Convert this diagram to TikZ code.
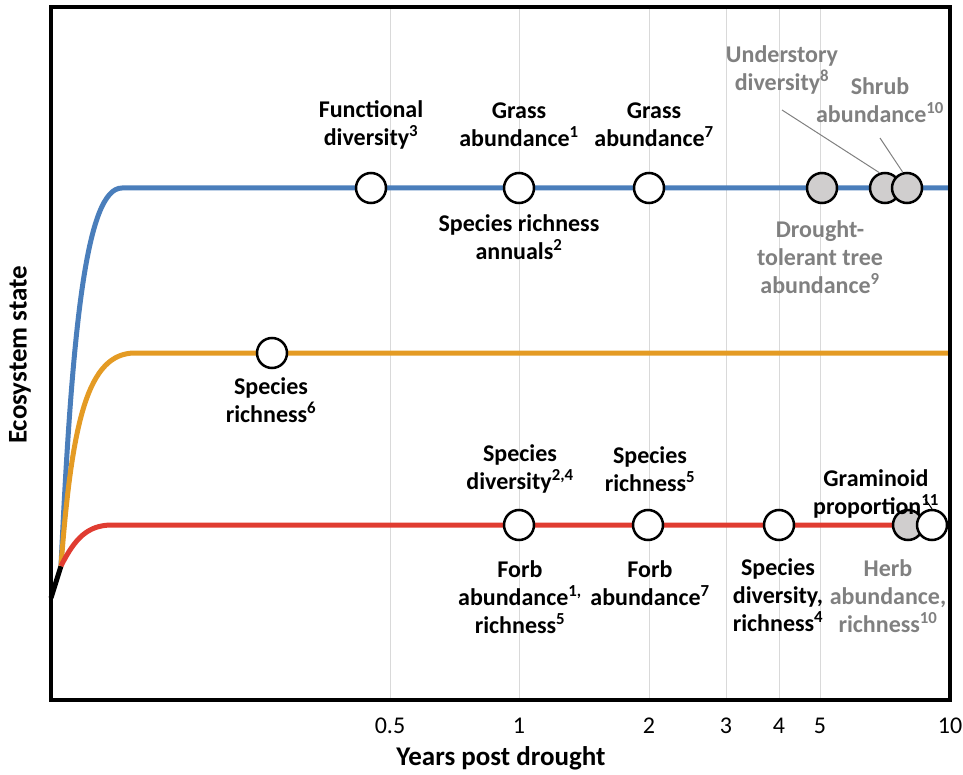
\documentclass[tikz,border=0pt]{standalone}
\usepackage{fontspec}
\setmainfont{Carlito}
\usepackage{tikz}
\definecolor{trendblue}{RGB}{74,126,187}
\definecolor{trendorange}{RGB}{228,155,36}
\definecolor{trendred}{RGB}{224,60,49}
\definecolor{spotgrey}{RGB}{208,206,206}
\definecolor{labgrey}{RGB}{128,128,128}
\definecolor{gridgrey}{RGB}{217,217,217}
\tikzset{
    trend/.style={line width=5pt},
    gridline/.style={draw=gridgrey, line width=1pt},
    spot/.style={circle, draw=black, line width=2.5pt, minimum size=30pt, inner sep=0pt},
    lab/.style={font=\fontsize{24}{28}\selectfont\bfseries, align=center, inner sep=0pt},
    greylab/.style={lab, text=labgrey},
    axislab/.style={font=\fontsize{27}{32}\selectfont\bfseries, inner sep=0pt},
    ticklab/.style={font=\fontsize{24}{28}\selectfont, inner sep=0pt},
    leader/.style={draw=labgrey, line width=1pt}
}
\def\Spot(#1) at (#2, #3) #4; {
    \node[spot, fill=#4] (#1) at (#2, #3) {};
}

\begin{document}
\begin{tikzpicture}[x=1pt, y=-1pt]
    \useasboundingbox (0,0) rectangle (963,775);
    \foreach \gx/\gl [count=\i] in {390/0.5, 519/1, 649/2, 726/3, 779/4, 820/5, 950/10} {
        \draw[gridline] (\gx,7) -- (\gx,700);
        \node[ticklab] (tick\i) at (\gx,726) {\gl};
    }
    % trends
    \coordinate (start) at (51,598);
    \coordinate (fork) at (61,566);
    \draw[trend, black] (start) -- (fork);
    \draw[trend, trendblue] (fork) .. controls (72,330) and (86,188) .. (122,188) -- (950,188);
    \draw[trend, trendorange] (fork) .. controls (72,420) and (88,353) .. (135,353) -- (950,353);
    \draw[trend, trendred] (fork) .. controls (75,538) and (88,525) .. (112,525) -- (950,525);
    % top line
    \Spot(fd) at (371, 188) white;
    \Spot(ga1) at (519, 188) white;
    \Spot(ga7) at (649, 188) white;
    \Spot(dt) at (822, 188) spotgrey;
    \Spot(us) at (885, 188) spotgrey;
    \Spot(sh) at (907, 188) spotgrey;
    % middle line
    \Spot(sr6) at (272, 353) white;
    % bottom line
    \Spot(sd24) at (519, 525) white;
    \Spot(sr5) at (648, 525) white;
    \Spot(sd4) at (779, 525) white;
    \Spot(herb) at (908, 525) spotgrey;
    \Spot(gram) at (932, 525) white;
    \node[lab] (fdlab) at (371,125) {Functional\\diversity\textsuperscript{3}};
    \node[lab] (ga1lab) at (519,125) {Grass\\abundance\textsuperscript{1}};
    \node[lab] (ga7lab) at (654,125) {Grass\\abundance\textsuperscript{7}};
    \node[lab] (srlab) at (519,237) {Species richness\\annuals\textsuperscript{2}};
    \node[greylab] (uslab) at (782,70) {Understory\\diversity\textsuperscript{8}};
    \node[greylab] (shlab) at (880,100) {Shrub\\abundance\textsuperscript{10}};
    \node[greylab] (dtlab) at (820,257) {Drought-\\tolerant tree\\abundance\textsuperscript{9}};
    \node[lab] (sr6lab) at (271,400) {Species\\richness\textsuperscript{6}};
    \node[lab] (sd24lab) at (520,469) {Species\\diversity\textsuperscript{2,4}};
    \node[lab] (sr5lab) at (650,469) {Species\\richness\textsuperscript{5}};
    \node[lab] (fblab) at (520,597) {Forb\\abundance\textsuperscript{1,}\\richness\textsuperscript{5}};
    \node[lab] (fb7lab) at (650,583) {Forb\\abundance\textsuperscript{7}};
    \node[lab] (sd4lab) at (778,595) {Species\\diversity,\\richness\textsuperscript{4}};
    \node[lab] (gramlab) at (876,494) {Graminoid\\proportion\textsuperscript{11}};
    \node[greylab] (herblab) at (888,596) {Herb\\abundance,\\richness\textsuperscript{10}};
    \coordinate (usend) at (782,110);
    \coordinate (shend) at (880,138);
    \coordinate (gramend) at (925,499);
    \draw[leader] (usend) -- (us.110);
    \draw[leader] (shend) -- (sh.105);
    \draw[line width=1pt] (gramend) -- (gram.north);
    \draw[line width=3.5pt] (51,7) rectangle (950,700); % axes box
    \node[axislab] (xlab) at (501,758) {Years post drought};
    \node[axislab, rotate=90] (ylab) at (20,355) {Ecosystem state};
\end{tikzpicture}
\end{document}
